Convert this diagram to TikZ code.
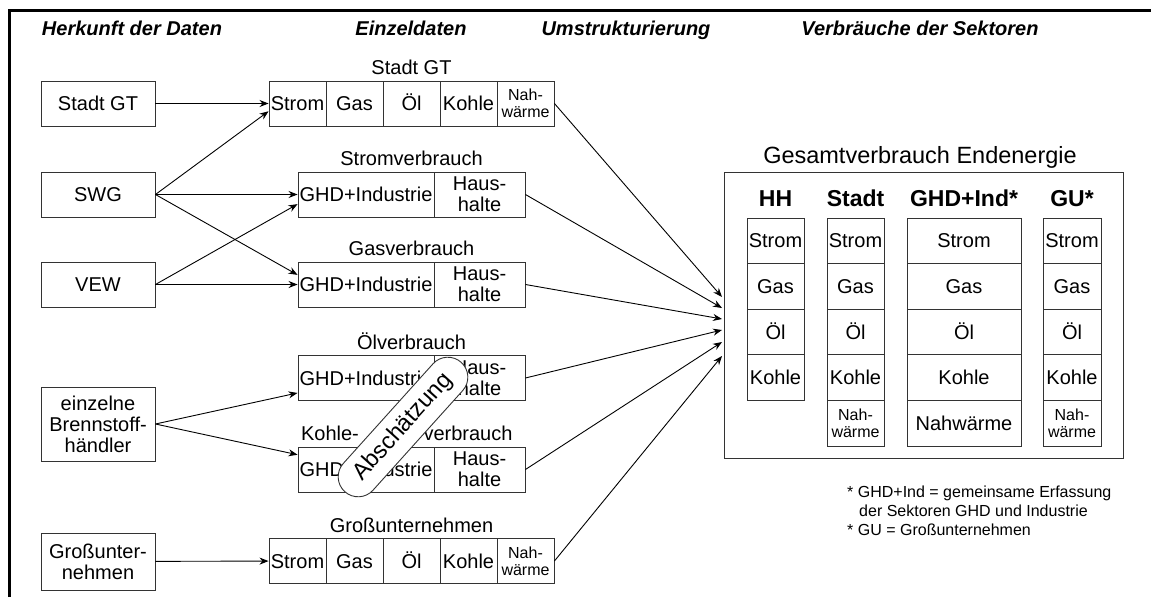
\documentclass[tikz,border=0pt]{standalone}
\usepackage{fontspec}
\setmainfont{Liberation Sans}
\usetikzlibrary{arrows.meta,positioning}
\newcommand{\bodyfont}{\fontsize{20}{21}\selectfont}
\newcommand{\smallfont}{\fontsize{16}{17}\selectfont}
\newcommand{\headfont}{\fontsize{20}{22}\selectfont\bfseries\itshape}
\newcommand{\colfont}{\fontsize{23}{25}\selectfont\bfseries}
\newcommand{\notefont}{\fontsize{16}{19}\selectfont}

\begin{document}
\begin{tikzpicture}[x=1pt,y=-1pt,
    box/.style={draw=black!80,line width=0.9pt,align=center,inner sep=0pt,font=\bodyfont},
    oneline/.style={text height=14.3pt,text depth=0pt},
    source/.style={box,minimum width=114,minimum height=45},
    cell/.style={box,oneline,minimum width=57,minimum height=45},
    smallcell/.style={box,minimum width=57,minimum height=45,font=\smallfont},
    head/.style={anchor=base,font=\headfont},
    rowtitle/.style={anchor=base,font=\bodyfont},
    arrow/.style={-{Stealth[length=9pt,width=7pt]},line width=0.9pt},
    pill/.style={draw=black!80,fill=white,line width=0.9pt,rounded corners=20pt,
      minimum width=174,minimum height=40,font=\fontsize{23.5}{25}\selectfont}
]
\useasboundingbox (0,0) rectangle (1151,597);
\draw[line width=3pt] (9,597) -- (9,10) -- (1151,10);

% column heads
\node[head] (h1) at (132,35) {Herkunft der Daten};
\node[head] (h2) at (411,35) {Einzeldaten};
\node[head] (h3) at (626,35) {Umstrukturierung};
\node[head] (h4) at (920,35) {Verbräuche der Sektoren};

% data sources
\node[source,oneline] (stadt) at (98,103.5) {Stadt GT};
\node[source,oneline] (swg) at (98,194.5) {SWG};
\node[source,oneline] (vew) at (98,284.5) {VEW};
\node[source,minimum height=74] (brenn) at (98,424) {einzelne\\Brennstoff-\\händler};
\node[source,minimum height=57] (gross) at (98,561.5) {Großunter-\\nehmen};

% rows with all carriers
\foreach \r/\yy/\t in {s/103.5/Stadt GT, g/561/Großunternehmen}{
  \foreach \n/\c [count=\i from 0] in {strom/Strom,gas/Gas,oel/Öl,kohle/Kohle}
    \node[cell] (\r-\n) at (297.5+57*\i,\yy) {\c};
  \node[smallcell] (\r-nah) at (525.5,\yy) {Nah-\\wärme};
  \node[rowtitle] (\r-title) at (411.5,\yy-29) {\t};
}

% rows split by sector
\foreach \r/\yy in {str/194.5, gas/284.5, oel/378, koh/469.5}{
  \node[cell,minimum width=136] (\r-ghd) at (366,\yy) {GHD+Industrie};
  \node[box,minimum width=91,minimum height=45] (\r-hh) at (479.5,\yy) {Haus-\\halte};
}
\node[rowtitle] (str-title) at (411.5,165.5) {Stromverbrauch};
\node[rowtitle] (gas-title) at (411.5,255.5) {Gasverbrauch};
\node[rowtitle] (oel-title) at (411.5,349) {Ölverbrauch};
\node[rowtitle] (koh-titleA) at (330,440.5) {Kohle-};
\node[rowtitle] (koh-titleB) at (468,440.5) {verbrauch};

% final consumption
\node[draw=black!80,line width=0.9pt,minimum width=399,minimum height=286] (total) at (923.5,315) {};
\node[anchor=base,font=\fontsize{23.5}{25}\selectfont] (total-title) at (920,163.5) {Gesamtverbrauch Endenergie};
\foreach \c/\xx/\w/\t in {hh/775.5/57/HH, st/855.5/57/Stadt, ind/964/114/GHD+Ind*, gu/1072/58/GU*}{
  \node[anchor=base,font=\colfont] (\c-head) at (\xx,206) {\t};
  \foreach \n/\e [count=\i from 0] in {strom/Strom,gas/Gas,oel/Öl,kohle/Kohle}
    \node[cell,minimum width=\w,minimum height=45.6] (\c-\n) at (\xx,240.8+45.6*\i) {\e};
}
\node[smallcell,minimum height=45.6] (st-nah) at (855.5,423.2) {Nah-\\wärme};
\node[cell,minimum width=114,minimum height=45.6] (ind-nah) at (964,423.2) {Nahwärme};
\node[smallcell,minimum width=58,minimum height=45.6] (gu-nah) at (1072,423.2) {Nah-\\wärme};

% inputs
\draw[arrow] (stadt) -- (s-strom);
\draw[arrow] (swg.east) -- (s-strom.195);
\draw[arrow] (swg.east) -- (str-ghd);
\draw[arrow] (swg.east) -- (gas-ghd.172);
\draw[arrow] (vew.east) -- (str-ghd.188);
\draw[arrow] (vew.east) -- (gas-ghd);
\draw[arrow] (brenn.east) -- (oel-ghd);
\draw[arrow] (brenn.east) -- (koh-ghd);
\draw[arrow] (gross) -- (g-strom);

% restructuring
\foreach \a/\yy in {s-nah/297, str-hh/308, gas-hh/319, oel-hh/330, koh-hh/342, g-nah/356}{
  \coordinate (in-\a) at (722,\yy);
  \draw[arrow] (\a.east) -- (in-\a);
}

\node[pill,rotate=48] (guess) at (403,427) {Abschätzung};

\node[font=\notefont,align=left,anchor=north west,inner sep=0pt] (note) at (847,486)
  {* GHD+Ind = gemeinsame Erfassung\\\hspace*{12pt}der Sektoren GHD und Industrie\\{}* GU = Großunternehmen};
\end{tikzpicture}
\end{document}
